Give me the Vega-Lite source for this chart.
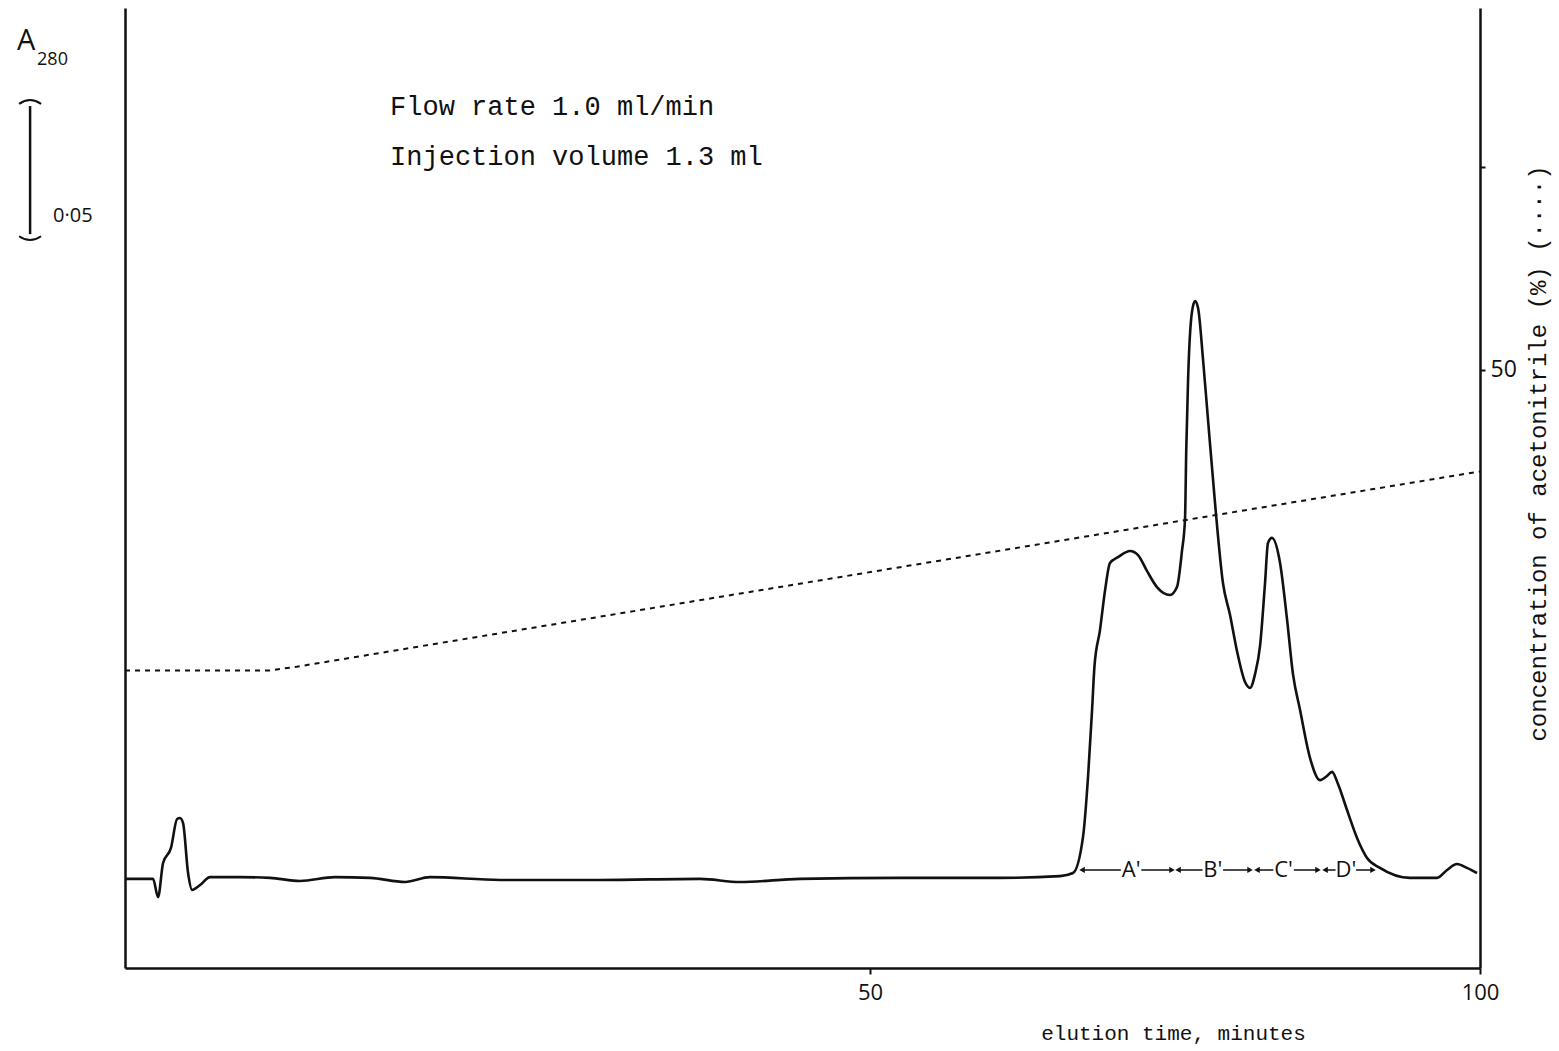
{
  "$schema": "https://vega.github.io/schema/vega-lite/v6.json",
  "width": 1355,
  "height": 960,
  "autosize": {"type": "none"},
  "padding": {"left": 125, "top": 8, "right": 79, "bottom": 83},
  "background": "white",
  "config": {
    "view": {"stroke": null},
    "axis": {"grid": false, "domainColor": "#111", "domainWidth": 2.5, "tickColor": "#111", "tickWidth": 2, "labelColor": "#111", "titleColor": "#111", "titleFontWeight": "normal"}
  },
  "datasets": {
    "chrom": [
      {"t": -11.07, "A": 0.0348}, {"t": -8.77, "A": 0.0348}, {"t": -8.36, "A": 0.0277}, {"t": -7.95, "A": 0.041},
      {"t": -7.3, "A": 0.0469}, {"t": -6.8, "A": 0.0582}, {"t": -6.56, "A": 0.0586}, {"t": -6.31, "A": 0.0566},
      {"t": -5.9, "A": 0.0371}, {"t": -5.57, "A": 0.0305}, {"t": -4.92, "A": 0.0324}, {"t": -4.1, "A": 0.0355},
      {"t": -1.64, "A": 0.0355}, {"t": 0.82, "A": 0.0352}, {"t": 3.28, "A": 0.034}, {"t": 6.15, "A": 0.0355},
      {"t": 9.02, "A": 0.0352}, {"t": 11.89, "A": 0.0336}, {"t": 13.93, "A": 0.0355}, {"t": 19.67, "A": 0.0344},
      {"t": 27.87, "A": 0.0344}, {"t": 36.07, "A": 0.0348}, {"t": 39.34, "A": 0.0336}, {"t": 44.26, "A": 0.0348},
      {"t": 52.46, "A": 0.0352}, {"t": 60.66, "A": 0.0352}, {"t": 65.57, "A": 0.0359}, {"t": 66.64, "A": 0.0371},
      {"t": 67.46, "A": 0.0512}, {"t": 67.87, "A": 0.0746}, {"t": 68.2, "A": 0.1008}, {"t": 68.4, "A": 0.118},
      {"t": 68.85, "A": 0.132}, {"t": 69.26, "A": 0.1473}, {"t": 69.67, "A": 0.1582}, {"t": 70.33, "A": 0.1605},
      {"t": 71.31, "A": 0.1629}, {"t": 71.97, "A": 0.1613}, {"t": 72.7, "A": 0.1551}, {"t": 73.52, "A": 0.1488},
      {"t": 74.59, "A": 0.1457}, {"t": 75.16, "A": 0.1488}, {"t": 75.57, "A": 0.1629}, {"t": 75.82, "A": 0.1754},
      {"t": 75.92, "A": 0.202}, {"t": 76.07, "A": 0.2297}, {"t": 76.39, "A": 0.2563}, {"t": 76.64, "A": 0.2605},
      {"t": 76.89, "A": 0.2578}, {"t": 77.3, "A": 0.2375}, {"t": 77.7, "A": 0.2145}, {"t": 78.28, "A": 0.1816},
      {"t": 78.93, "A": 0.1504}, {"t": 79.51, "A": 0.1379}, {"t": 80.08, "A": 0.1238}, {"t": 80.74, "A": 0.1117},
      {"t": 81.15, "A": 0.1094}, {"t": 81.56, "A": 0.1148}, {"t": 81.97, "A": 0.1258}, {"t": 82.38, "A": 0.1504},
      {"t": 82.62, "A": 0.166}, {"t": 82.95, "A": 0.168}, {"t": 83.61, "A": 0.1582}, {"t": 84.18, "A": 0.1363},
      {"t": 84.67, "A": 0.1148}, {"t": 85.25, "A": 0.1008}, {"t": 86.07, "A": 0.082}, {"t": 86.89, "A": 0.0734},
      {"t": 87.46, "A": 0.075}, {"t": 87.87, "A": 0.0766}, {"t": 88.36, "A": 0.0719}, {"t": 89.1, "A": 0.0617},
      {"t": 89.92, "A": 0.0508}, {"t": 90.74, "A": 0.043}, {"t": 91.8, "A": 0.0391}, {"t": 94.26, "A": 0.0352},
      {"t": 96.48, "A": 0.0352}, {"t": 97.3, "A": 0.0383}, {"t": 98.11, "A": 0.0406}, {"t": 98.93, "A": 0.0391},
      {"t": 99.75, "A": 0.0371}
    ],
    "grad": [
      {"t": -11.07, "c": 35.2}, {"t": 0.8, "c": 35.2}, {"t": 3.0, "c": 35.38}, {"t": 100, "c": 45.0}
    ],
    "frac": [
      {"f": "A'", "from": 67.38, "to": 74.75, "mid": 71.4},
      {"f": "B'", "from": 75.25, "to": 81.15, "mid": 78.1},
      {"f": "C'", "from": 81.72, "to": 86.72, "mid": 83.9},
      {"f": "D'", "from": 87.3, "to": 91.23, "mid": 89.0}
    ],
    "notes": [
      {"t": 10.66, "A": 0.3332, "text": "Flow rate 1.0 ml/min"},
      {"t": 10.66, "A": 0.3137, "text": "Injection volume 1.3 ml"}
    ],
    "bar": [
      {"t": -18.85, "lo": 0.2867, "hi": 0.3367}
    ]
  },
  "resolve": {"scale": {"y": "independent"}},
  "layer": [
    {
      "data": {"name": "grad"},
      "mark": {"type": "line", "color": "#111", "strokeWidth": 2, "strokeDash": [5, 5]},
      "encoding": {
        "x": {"field": "t", "type": "quantitative", "scale": {"domain": [-11.07, 100], "nice": false, "zero": false},
          "axis": {"orient": "bottom", "values": [50, 100], "title": "elution time, minutes", "labelFont": "Open Sans", "labelFontSize": 22, "tickSize": 6, "labelPadding": 8, "labelFlush": false, "labelOverlap": false, "labelBound": false,
            "titleFont": "Liberation Mono", "titleFontSize": 21, "titleX": 1048, "titleY": 54, "titleBaseline": "top", "titleAlign": "center"}},
        "y": {"field": "c", "type": "quantitative", "scale": {"domain": [20.54, 67.83], "nice": false, "zero": false},
          "axis": {"orient": "right", "values": [50, 60], "labelExpr": "datum.value == 50 ? '50' : ''", "tickSize": 5, "labelPadding": 5,
            "labelFont": "Open Sans", "labelFontSize": 23,
            "title": "concentration of acetonitrile (%) (····)", "titleFont": "Liberation Mono", "titleFontSize": 24,
            "titleAngle": 270, "titleX": 58, "titleY": 445, "titleBaseline": "middle", "titleAlign": "center"}}
      }
    },
    {
      "data": {"name": "chrom"},
      "mark": {"type": "line", "color": "#111", "strokeWidth": 2.6, "interpolate": "monotone"},
      "encoding": {
        "x": {"field": "t", "type": "quantitative", "scale": {"domain": [-11.07, 100], "nice": false, "zero": false}},
        "y": {"field": "A", "type": "quantitative", "scale": {"domain": [0, 0.375], "nice": false, "zero": false},
          "axis": {"orient": "left", "ticks": false, "labels": false, "title": null}}
      }
    },
    {
      "data": {"name": "frac"},
      "mark": {"type": "rule", "color": "#111", "strokeWidth": 1.6},
      "encoding": {
        "x": {"field": "from", "type": "quantitative", "scale": {"domain": [-11.07, 100], "nice": false, "zero": false}},
        "x2": {"field": "to"},
        "y": {"datum": 0.0383, "type": "quantitative", "scale": {"domain": [0, 0.375], "nice": false, "zero": false}, "axis": null}
      }
    },
    {
      "data": {"name": "frac"},
      "mark": {"type": "point", "shape": "triangle-left", "filled": true, "color": "#111", "size": 40, "opacity": 1},
      "encoding": {
        "x": {"field": "from", "type": "quantitative", "scale": {"domain": [-11.07, 100], "nice": false, "zero": false}},
        "y": {"datum": 0.0383, "type": "quantitative", "scale": {"domain": [0, 0.375], "nice": false, "zero": false}, "axis": null}
      }
    },
    {
      "data": {"name": "frac"},
      "mark": {"type": "point", "shape": "triangle-right", "filled": true, "color": "#111", "size": 40, "opacity": 1},
      "encoding": {
        "x": {"field": "to", "type": "quantitative", "scale": {"domain": [-11.07, 100], "nice": false, "zero": false}},
        "y": {"datum": 0.0383, "type": "quantitative", "scale": {"domain": [0, 0.375], "nice": false, "zero": false}, "axis": null}
      }
    },
    {
      "data": {"name": "frac"},
      "mark": {"type": "point", "shape": "square", "filled": true, "color": "white", "size": 420, "opacity": 1},
      "encoding": {
        "x": {"field": "mid", "type": "quantitative", "scale": {"domain": [-11.07, 100], "nice": false, "zero": false}},
        "y": {"datum": 0.0383, "type": "quantitative", "scale": {"domain": [0, 0.375], "nice": false, "zero": false}, "axis": null}
      }
    },
    {
      "data": {"name": "frac"},
      "mark": {"type": "text", "font": "Open Sans", "fontSize": 22, "color": "#111", "align": "center", "baseline": "alphabetic"},
      "encoding": {
        "x": {"field": "mid", "type": "quantitative", "scale": {"domain": [-11.07, 100], "nice": false, "zero": false}},
        "y": {"datum": 0.0355, "type": "quantitative", "scale": {"domain": [0, 0.375], "nice": false, "zero": false}, "axis": null},
        "text": {"field": "f"}
      }
    },
    {
      "data": {"name": "notes"},
      "mark": {"type": "text", "font": "Liberation Mono", "fontSize": 27, "color": "#111", "align": "left", "baseline": "alphabetic"},
      "encoding": {
        "x": {"field": "t", "type": "quantitative", "scale": {"domain": [-11.07, 100], "nice": false, "zero": false}},
        "y": {"field": "A", "type": "quantitative", "scale": {"domain": [0, 0.375], "nice": false, "zero": false}, "axis": null},
        "text": {"field": "text"}
      }
    },
    {
      "data": {"name": "bar"},
      "mark": {"type": "rule", "color": "#111", "strokeWidth": 2.5},
      "encoding": {
        "x": {"field": "t", "type": "quantitative", "scale": {"domain": [-11.07, 100], "nice": false, "zero": false}},
        "y": {"field": "lo", "type": "quantitative", "scale": {"domain": [0, 0.375], "nice": false, "zero": false}, "axis": null},
        "y2": {"field": "hi"}
      }
    },
    {
      "data": {"name": "bar"},
      "mark": {"type": "point", "shape": "M -1 -0.2 Q 0 -0.9 1 -0.2", "filled": false, "color": "#111", "strokeWidth": 2, "size": 484, "opacity": 1},
      "encoding": {
        "x": {"field": "t", "type": "quantitative", "scale": {"domain": [-11.07, 100], "nice": false, "zero": false}},
        "y": {"field": "hi", "type": "quantitative", "scale": {"domain": [0, 0.375], "nice": false, "zero": false}, "axis": null}
      }
    },
    {
      "data": {"name": "bar"},
      "mark": {"type": "point", "shape": "M -1 0.2 Q 0 0.9 1 0.2", "filled": false, "color": "#111", "strokeWidth": 2, "size": 484, "opacity": 1},
      "encoding": {
        "x": {"field": "t", "type": "quantitative", "scale": {"domain": [-11.07, 100], "nice": false, "zero": false}},
        "y": {"field": "lo", "type": "quantitative", "scale": {"domain": [0, 0.375], "nice": false, "zero": false}, "axis": null}
      }
    },
    {
      "data": {"values": [{"t": -16.97, "A": 0.2914, "text": "0·05"}]},
      "mark": {"type": "text", "font": "Open Sans", "fontSize": 20, "color": "#111", "align": "left", "baseline": "alphabetic"},
      "encoding": {
        "x": {"field": "t", "type": "quantitative", "scale": {"domain": [-11.07, 100], "nice": false, "zero": false}},
        "y": {"field": "A", "type": "quantitative", "scale": {"domain": [0, 0.375], "nice": false, "zero": false}, "axis": null},
        "text": {"field": "text"}
      }
    },
    {
      "data": {"values": [{"t": -19.92, "A": 0.3586, "text": "A"}]},
      "mark": {"type": "text", "font": "Open Sans", "fontSize": 29, "color": "#111", "align": "left", "baseline": "alphabetic"},
      "encoding": {
        "x": {"field": "t", "type": "quantitative", "scale": {"domain": [-11.07, 100], "nice": false, "zero": false}},
        "y": {"field": "A", "type": "quantitative", "scale": {"domain": [0, 0.375], "nice": false, "zero": false}, "axis": null},
        "text": {"field": "text"}
      }
    },
    {
      "data": {"values": [{"t": -18.28, "A": 0.3527, "text": "280"}]},
      "mark": {"type": "text", "font": "Open Sans", "fontSize": 18, "color": "#111", "align": "left", "baseline": "alphabetic"},
      "encoding": {
        "x": {"field": "t", "type": "quantitative", "scale": {"domain": [-11.07, 100], "nice": false, "zero": false}},
        "y": {"field": "A", "type": "quantitative", "scale": {"domain": [0, 0.375], "nice": false, "zero": false}, "axis": null},
        "text": {"field": "text"}
      }
    }
  ]
}
